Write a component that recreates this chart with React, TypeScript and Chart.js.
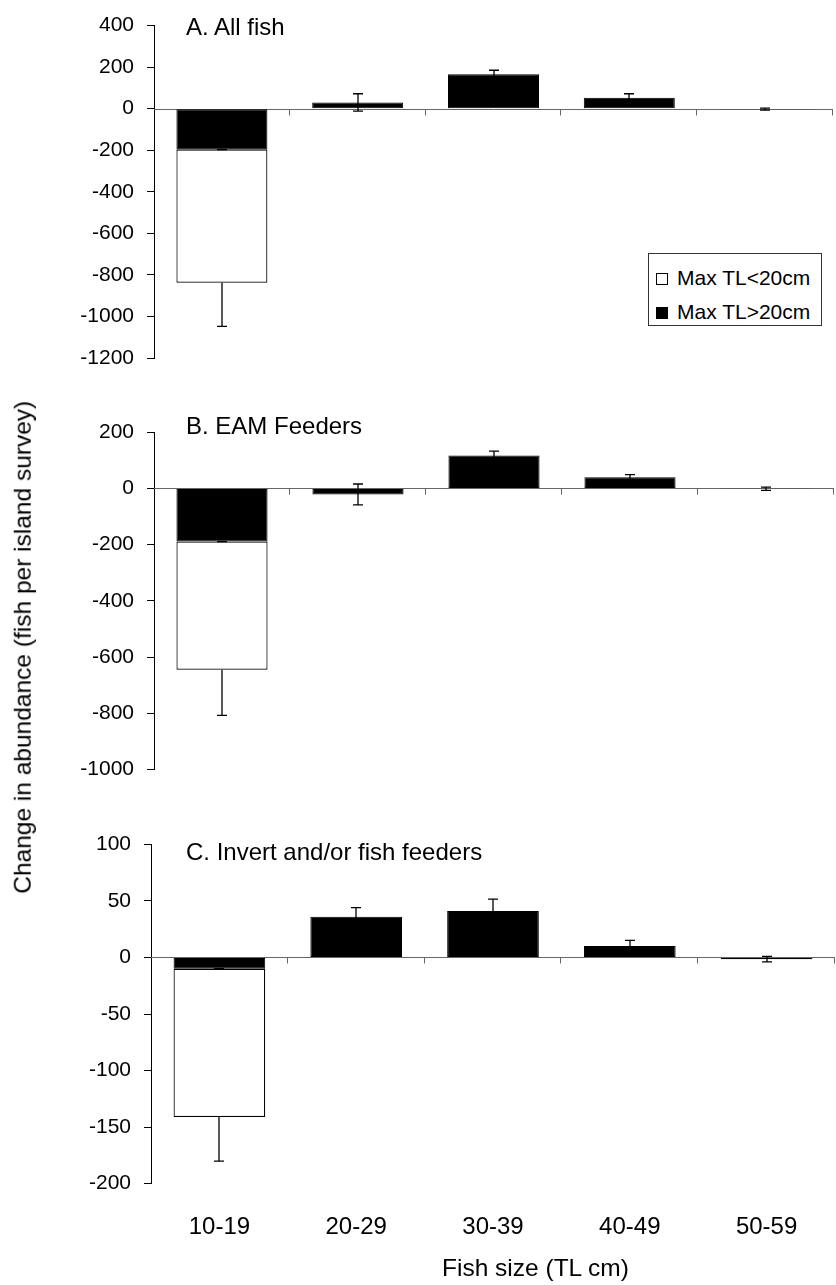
import React, { useEffect, useRef } from 'react';
import { Chart, registerables } from 'chart.js';

Chart.register(...registerables);

const FONT = "'Liberation Sans', Arial, Helvetica, sans-serif";

const CATEGORIES = ['10-19', '20-29', '30-39', '40-49', '50-59'];
const LEGEND_LABELS = ['Max TL<20cm', 'Max TL>20cm'];
const PANEL_TITLES = ['A. All fish', 'B. EAM Feeders', 'C. Invert and/or fish feeders'];
const Y_TITLE = 'Change in abundance (fish per island survey)';
const X_TITLE = 'Fish size (TL cm)';

// Panel A: All fish
const A_LARGE = [-197, 30, 166, 53, -2];
const A_SMALL = [-641, null, null, null, null];
const A_LARGE_ERR = [0, 42, 19, 19, 5];
const A_SMALL_ERR = [210, null, null, null, null];
const A_Y_TICKS = [-1200, 400, 200];

// Panel B: EAM feeders
const B_LARGE = [-189, -21, 117, 40, -1];
const B_SMALL = [-456, null, null, null, null];
const B_LARGE_ERR = [0, 37, 16, 9, 6];
const B_SMALL_ERR = [163, null, null, null, null];
const B_Y_TICKS = [-1000, 200, 200];

// Panel C: Invert and/or fish feeders
const C_LARGE = [-10, 36, 41, 10, -1.5];
const C_SMALL = [-131, null, null, null, null];
const C_LARGE_ERR = [0, 8, 10.5, 5, 2.5];
const C_SMALL_ERR = [39, null, null, null, null];
const C_Y_TICKS = [-200, 100, 50];

const zeroAxisPlugin = {
  id: 'zeroAxis',
  beforeDatasetsDraw(chart: any) {
    const { ctx, chartArea, scales } = chart;
    const x = scales.x;
    const y = scales.y;
    const y0 = Math.round(y.getPixelForValue(0)) + 0.5;
    ctx.save();
    ctx.strokeStyle = '#666';
    ctx.lineWidth = 1;
    ctx.beginPath();
    ctx.moveTo(chartArea.left, y0);
    ctx.lineTo(chartArea.right, y0);
    for (let i = 0; i < CATEGORIES.length; i++) {
      const bx = Math.round(x.getPixelForValue(i + 0.5)) - 0.5;
      ctx.moveTo(bx, y0);
      ctx.lineTo(bx, y0 + 6);
    }
    ctx.stroke();
    ctx.restore();
  },
};

const errorBarPlugin = {
  id: 'errorBars',
  afterDatasetsDraw(chart: any) {
    const { ctx, scales } = chart;
    const y = scales.y;
    const zero = y.getPixelForValue(0);
    ctx.save();
    ctx.strokeStyle = '#000';
    ctx.lineWidth = 1.3;
    chart.data.datasets.forEach((ds: any, di: number) => {
      const errs = ds.errors;
      if (!errs) return;
      const meta = chart.getDatasetMeta(di);
      meta.data.forEach((el: any, i: number) => {
        const e = errs[i];
        const v = ds.data[i];
        if (e == null || v == null) return;
        const len = Math.abs(y.getPixelForValue(e) - zero);
        const cx = Math.round(el.x);
        const cy = el.y;
        let top = cy - len;
        let bottom = cy + len;
        let capTop = true;
        let capBottom = true;
        if (ds.errorMode === 'outward') {
          if (v < 0) { top = cy; capTop = false; } else { bottom = cy; capBottom = false; }
        }
        ctx.beginPath();
        ctx.moveTo(cx, top);
        ctx.lineTo(cx, bottom);
        if (capTop) { ctx.moveTo(cx - 5, top); ctx.lineTo(cx + 5, top); }
        if (capBottom) { ctx.moveTo(cx - 5, bottom); ctx.lineTo(cx + 5, bottom); }
        ctx.stroke();
      });
    });
    ctx.restore();
  },
};

type PanelProps = {
  large: (number | null)[];
  small: (number | null)[];
  largeErr: (number | null)[];
  smallErr: (number | null)[];
  yTicks: number[];
  top: number;
  height: number;
  padTop: number;
  padBottom: number;
  padRight: number;
  axisWidth: number;
  showX: boolean;
};

function Panel(p: PanelProps) {
  const ref = useRef<HTMLCanvasElement | null>(null);
  useEffect(() => {
    if (!ref.current) return;
    const chart = new Chart(ref.current, {
      type: 'bar',
      data: {
        labels: CATEGORIES,
        datasets: [
          {
            label: LEGEND_LABELS[1],
            data: p.large,
            backgroundColor: '#000',
            borderColor: '#000',
            borderWidth: 1,
            borderSkipped: false,
            errors: p.largeErr,
            errorMode: 'both',
          } as any,
          {
            label: LEGEND_LABELS[0],
            data: p.small,
            backgroundColor: '#fff',
            borderColor: '#000',
            borderWidth: 1.2,
            borderSkipped: false,
            errors: p.smallErr,
            errorMode: 'outward',
          } as any,
        ],
      },
      options: {
        responsive: false,
        animation: false,
        devicePixelRatio: 1,
        layout: { padding: { top: p.padTop, bottom: p.padBottom, right: p.padRight, left: 0 } },
        datasets: { bar: { categoryPercentage: 1, barPercentage: 0.67 } },
        plugins: { legend: { display: false }, tooltip: { enabled: false }, title: { display: false } },
        scales: {
          x: {
            stacked: true,
            display: p.showX,
            grid: { display: false, drawTicks: false },
            border: { display: false },
            ticks: {
              color: '#000',
              padding: 29,
              font: { family: FONT, size: 24 },
              maxRotation: 0,
              autoSkip: false,
            },
            afterFit: (s: any) => { s.height = p.showX ? 60 : 0; },
          },
          y: {
            stacked: true,
            min: p.yTicks[0],
            max: p.yTicks[1],
            grid: { drawOnChartArea: false, drawTicks: true, tickLength: 7, color: '#000', lineWidth: 1 },
            border: { display: true, color: '#000', width: 1 },
            ticks: {
              stepSize: p.yTicks[2],
              color: '#000',
              padding: 13,
              font: { family: FONT, size: 21 },
              callback: (v: any) => String(v),
            },
            afterFit: (s: any) => { s.width = p.axisWidth; },
          },
        },
      },
      plugins: [zeroAxisPlugin, errorBarPlugin],
    });
    return () => chart.destroy();
  }, []);
  return (
    <canvas
      ref={ref}
      width={836}
      height={p.height}
      style={{ position: 'absolute', left: 0, top: p.top, width: 836, height: p.height, display: 'block' }}
    />
  );
}

const textBase: React.CSSProperties = {
  position: 'absolute',
  fontFamily: FONT,
  lineHeight: 1,
  whiteSpace: 'nowrap',
  color: '#000',
};

export default function App() {
  return (
    <div style={{ position: 'absolute', left: 0, top: 0, width: 836, height: 1285, background: '#fff', overflow: 'hidden' }}>
      <Panel large={A_LARGE} small={A_SMALL} largeErr={A_LARGE_ERR} smallErr={A_SMALL_ERR} yTicks={A_Y_TICKS}
        top={0} height={390} padTop={21} padBottom={32} padRight={3} axisWidth={154} showX={false} />
      <Panel large={B_LARGE} small={B_SMALL} largeErr={B_LARGE_ERR} smallErr={B_SMALL_ERR} yTicks={B_Y_TICKS}
        top={395} height={400} padTop={37.3} padBottom={23.3} padRight={2} axisWidth={154} showX={false} />
      <Panel large={C_LARGE} small={C_SMALL} largeErr={C_LARGE_ERR} smallErr={C_SMALL_ERR} yTicks={C_Y_TICKS}
        top={800} height={485} padTop={44.3} padBottom={41.3} padRight={1} axisWidth={151} showX={true} />

      <div style={{ ...textBase, left: 186, top: 14.7, fontSize: 24 }}>{PANEL_TITLES[0]}</div>
      <div style={{ ...textBase, left: 186, top: 413.7, fontSize: 24 }}>{PANEL_TITLES[1]}</div>
      <div style={{ ...textBase, left: 186, top: 839.7, fontSize: 24 }}>{PANEL_TITLES[2]}</div>

      <div style={{ ...textBase, left: 442, top: 1256, fontSize: 24.5 }}>{X_TITLE}</div>

      <div
        style={{
          ...textBase,
          left: 23 - 300,
          top: 647.5 - 12.25,
          width: 600,
          height: 24.5,
          textAlign: 'center',
          fontSize: 24.5,
          transform: 'rotate(-90deg)',
          transformOrigin: '50% 50%',
        }}
      >
        {Y_TITLE}
      </div>

      <div style={{ position: 'absolute', left: 648, top: 253, width: 172, height: 71, border: '1px solid #333', background: '#fff' }} />
      <div style={{ position: 'absolute', left: 656, top: 273, width: 10, height: 10, border: '1px solid #000', background: '#fff' }} />
      <div style={{ ...textBase, left: 677, top: 266.5, fontSize: 21 }}>{LEGEND_LABELS[0]}</div>
      <div style={{ position: 'absolute', left: 656, top: 307, width: 12, height: 12, background: '#000' }} />
      <div style={{ ...textBase, left: 677, top: 301.2, fontSize: 21 }}>{LEGEND_LABELS[1]}</div>
    </div>
  );
}
